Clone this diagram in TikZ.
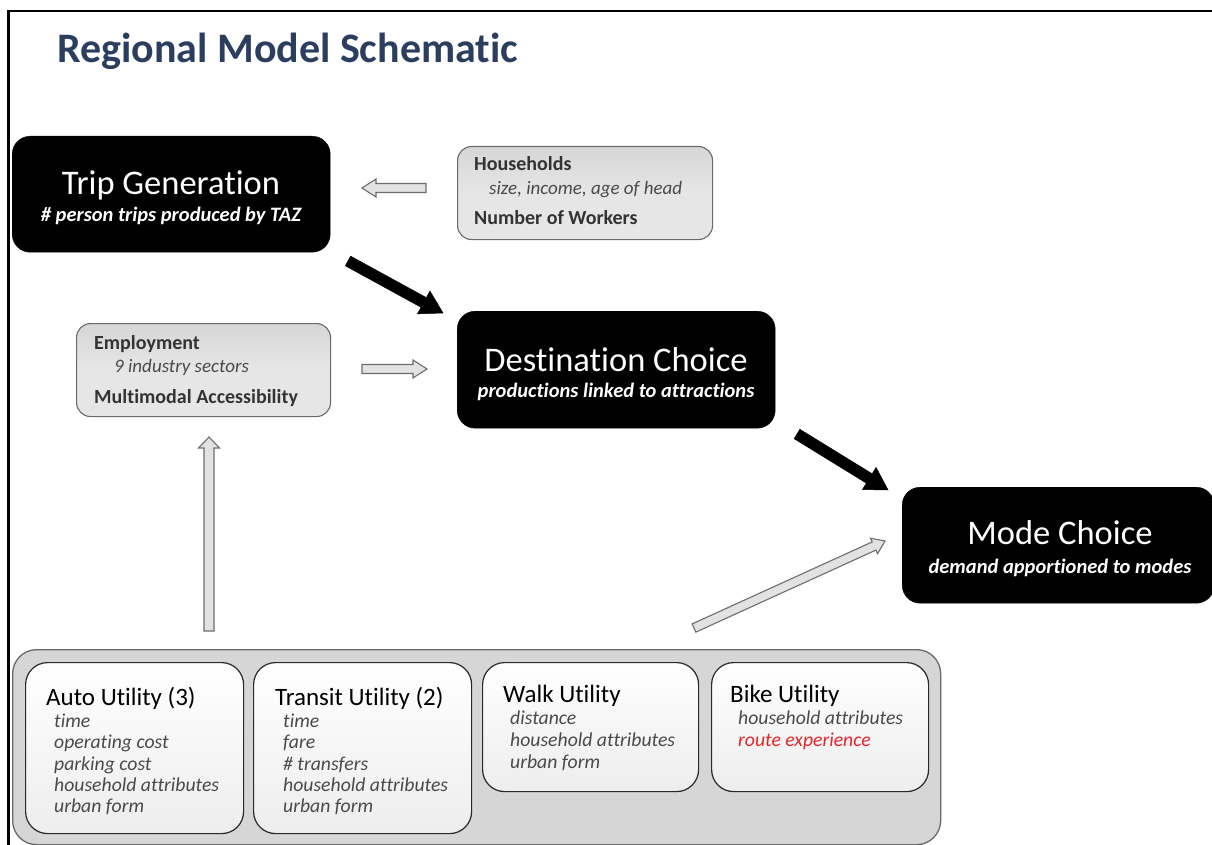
\documentclass[tikz,border=0pt]{standalone}
\usepackage{fontspec}
\setmainfont{Carlito}[Ligatures=NoCommon]
\usetikzlibrary{calc}
\definecolor{navy}{HTML}{2C3E5F}
\definecolor{boxgray}{HTML}{D6D6D6}
\definecolor{boxgrayl}{HTML}{E6E6E6}
\definecolor{edgegray}{HTML}{6A6A6A}
\definecolor{darktxt}{HTML}{333333}
\definecolor{itxt}{HTML}{4A4A4A}
\definecolor{routered}{HTML}{E5262B}
\definecolor{arrfill}{HTML}{E2E2E2}
\definecolor{arredge}{HTML}{6E6E6E}
\newcommand{\blockarrow}[6]{%
  \path ($(#3)!#6!(#2)$) coordinate (bab);
  \draw[#1] ($(#2)!#4!90:(#3)$) -- ($(bab)!#4!90:(#3)$) -- ($(bab)!#5!90:(#3)$) -- (#3)
    -- ($(bab)!#5!-90:(#3)$) -- ($(bab)!#4!-90:(#3)$) -- ($(#2)!#4!-90:(#3)$) -- cycle;}
\tikzset{
  blackbox/.style={fill=black, draw=black, rounded corners=18pt, inner sep=0pt, anchor=north west},
  graybox/.style={top color=boxgray, bottom color=boxgrayl, middle color=boxgrayl, draw=edgegray, line width=1.1pt, rounded corners=14pt, inner sep=0pt, anchor=north west},
  outerbox/.style={fill=boxgray, draw=edgegray, line width=1.3pt, rounded corners=24pt, inner sep=0pt, anchor=north west},
  utilbox/.style={top color=white, bottom color=white!93!black, draw=darktxt!80!black, line width=1.2pt, rounded corners=22pt, inner sep=0pt, anchor=north west},
  txt/.style={inner sep=0pt, anchor=base west},
  ctxt/.style={inner sep=0pt, anchor=base},
  bigtitle/.style={ctxt, text=white, font=\fontsize{34.5}{36}\selectfont},
  subtitle/.style={ctxt, text=white, font=\fontsize{20.5}{22}\selectfont\bfseries\itshape},
  grayhead/.style={txt, text=darktxt, font=\fontsize{20}{22}\selectfont\bfseries},
  grayitem/.style={txt, text=itxt, font=\fontsize{19}{21}\selectfont\itshape},
  utilhead/.style={txt, text=black, font=\fontsize{25}{27}\selectfont},
  utilitem/.style={txt, text=itxt, font=\fontsize{19.7}{21}\selectfont\itshape},
  hollow/.style={fill=arrfill, draw=arredge, line width=1.1pt, line join=miter},
  solid/.style={fill=black, draw=black, line width=0.5pt}
}
\begin{document}
\begin{tikzpicture}[x=1pt,y=-1pt]
\useasboundingbox (0,0) rectangle (1212,845);
\fill[white] (0,0) rectangle (1212,845);
% frame
\draw[line width=2.6pt] (8.5,846) -- (8.5,11) -- (1213,11);
% title
\node[txt, text=navy, font=\fontsize{42}{44}\selectfont\bfseries] (title) at (57,63) {Regional Model Schematic};

% black boxes
\node[blackbox, minimum width=318pt, minimum height=116pt] (tg) at (12,136) {};
\node[bigtitle] (tgt) at (171,194) {Trip Generation};
\node[subtitle] (tgs) at (171,221) {\# person trips produced by TAZ};

\node[blackbox, minimum width=318pt, minimum height=117pt] (dc) at (457,311) {};
\node[bigtitle] (dct) at (616,371) {Destination Choice};
\node[subtitle] (dcs) at (616,397) {productions linked to attractions};

\node[blackbox, minimum width=312pt, minimum height=116pt] (mc) at (902,487) {};
\node[bigtitle] (mct) at (1060,544) {Mode Choice};
\node[subtitle] (mcs) at (1060,573) {demand apportioned to modes};

% gray boxes
\node[graybox, minimum width=255pt, minimum height=93pt] (hh) at (457,146) {};
\node[grayhead] (hh1) at (474,171) {Households};
\node[grayitem] (hh2) at (489,194) {size, income, age of head};
\node[grayhead] (hh3) at (474,224) {Number of Workers};

\node[graybox, minimum width=254pt, minimum height=93pt] (emp) at (76,323) {};
\node[grayhead] (emp1) at (94,349) {Employment};
\node[grayitem] (emp2) at (114,372) {9 industry sectors};
\node[grayhead] (emp3) at (94,403) {Multimodal Accessibility};

% utilities container
\node[outerbox, minimum width=928pt, minimum height=195pt] (util) at (12,649) {};
\node[utilbox, minimum width=218pt, minimum height=171pt] (auto) at (25,662) {};
\node[utilbox, minimum width=218pt, minimum height=171pt] (transit) at (253,662) {};
\node[utilbox, minimum width=216pt, minimum height=129pt] (walk) at (482,662) {};
\node[utilbox, minimum width=217pt, minimum height=129pt] (bike) at (711,662) {};

\node[utilhead] (a0) at (46,705) {Auto Utility (3)};
\node[utilitem] (a1) at (54,727) {time};
\node[utilitem] (a2) at (54,748) {operating cost};
\node[utilitem] (a3) at (54,770) {parking cost};
\node[utilitem] (a4) at (54,791) {household attributes};
\node[utilitem] (a5) at (54,812) {urban form};

\node[utilhead] (t0) at (275,705) {Transit Utility (2)};
\node[utilitem] (t1) at (283,727) {time};
\node[utilitem] (t2) at (283,748) {fare};
\node[utilitem] (t3) at (283,770) {\# transfers};
\node[utilitem] (t4) at (283,791) {household attributes};
\node[utilitem] (t5) at (283,812) {urban form};

\node[utilhead] (w0) at (503,702) {Walk Utility};
\node[utilitem] (w1) at (510,724) {distance};
\node[utilitem] (w2) at (510,746) {household attributes};
\node[utilitem] (w3) at (510,768) {urban form};

\node[utilhead] (b0) at (730,702) {Bike Utility};
\node[utilitem] (b1) at (738,724) {household attributes};
\node[utilitem, text=routered] (b2) at (738,746) {route experience};

% arrow end points
\coordinate (hhA) at (426,188);
\coordinate (tgA) at (362,188);
\coordinate (empA) at (362,369);
\coordinate (dcA) at (427,369);
\coordinate (utilA) at (209,631);
\coordinate (empB) at (209,437);
\coordinate (utilB) at (694,628);
\coordinate (mcB) at (885,541);
\coordinate (tgB) at (348,261);
\coordinate (dcB) at (443,313);
\coordinate (dcC) at (797,434);
\coordinate (mcC) at (888,490);

% arrows
\blockarrow{hollow}{hhA}{tgA}{4.5pt}{9pt}{14pt}
\blockarrow{hollow}{empA}{dcA}{4.5pt}{9pt}{14pt}
\blockarrow{hollow}{utilA}{empB}{5pt}{10.5pt}{11pt}
\blockarrow{hollow}{utilB}{mcB}{4.5pt}{8.5pt}{12pt}
\blockarrow{solid}{tgB}{dcB}{5.5pt}{13pt}{22pt}
\blockarrow{solid}{dcC}{mcC}{5.5pt}{13pt}{22pt}
\end{tikzpicture}
\end{document}
